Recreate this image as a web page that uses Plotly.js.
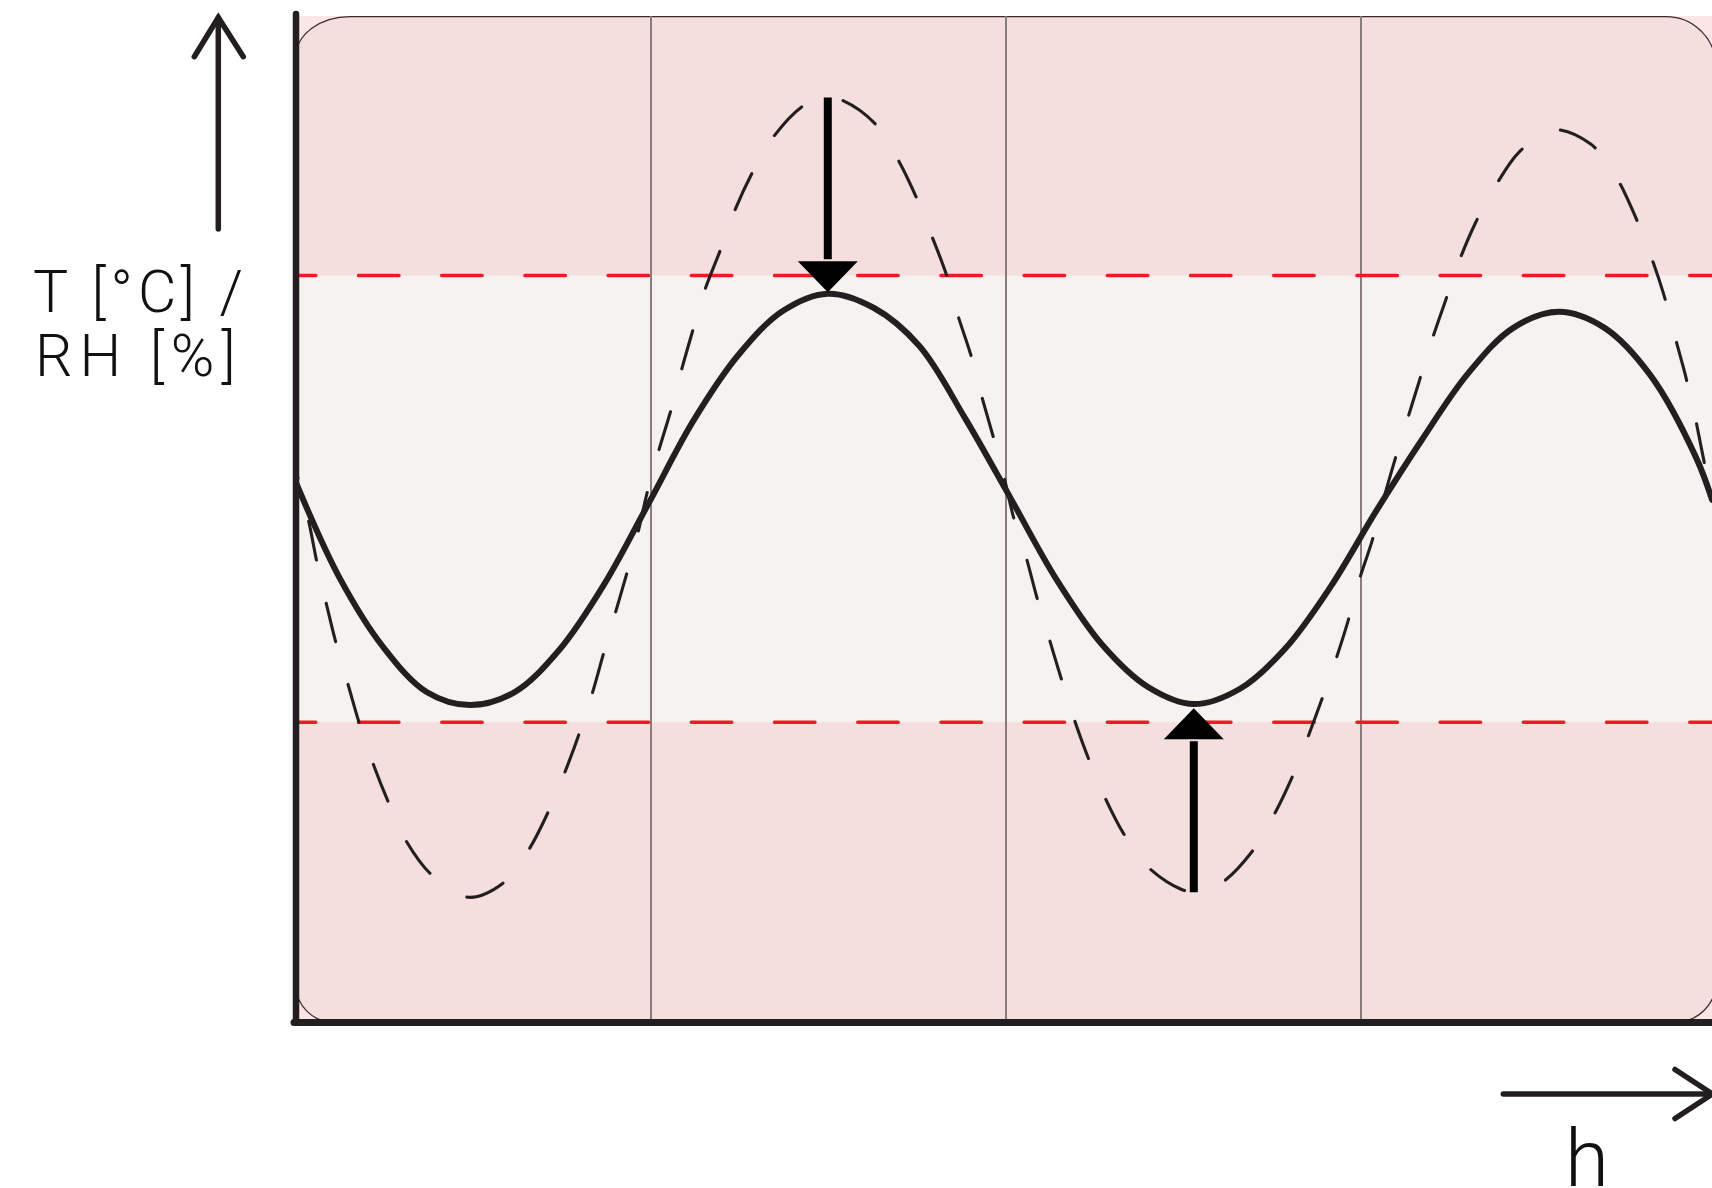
<!DOCTYPE html>
<html>
<head>
<meta charset="utf-8">
<script src="https://cdn.plot.ly/plotly-3.0.1.min.js"></script>
<style>
  html, body { margin: 0; padding: 0; background: #ffffff; }
  #chart { width: 1712px; height: 1188px; }
</style>
</head>
<body>
<div id="chart"></div>
<script>
// ---- data (x: hours in grid units, y: 0..100 scale) ----
const xSolid = [0, 0.122, 0.245, 0.368, 0.490, 0.616, 0.742, 0.868, 0.994, 1.120, 1.246, 1.372,
  1.498, 1.627, 1.756, 1.885, 2.014, 2.142, 2.271, 2.400, 2.529, 2.658, 2.786, 2.915,
  3.043, 3.172, 3.300, 3.429, 3.557, 3.686, 3.815, 3.944, 3.989];
const ySolid = [53.6, 44.2, 37.3, 32.8, 31.5, 32.8, 37.0, 43.5, 51.6, 59.8, 66.3, 70.7,
  72.4, 71.0, 67.2, 60.0, 52.0, 44.0, 37.5, 33.3, 31.6, 33.1, 37.1, 43.3,
  50.8, 57.9, 64.4, 69.0, 70.6, 69.0, 64.3, 56.1, 51.9];

const xDashed = [0, 0.035, 0.060, 0.086, 0.114, 0.147, 0.180, 0.218, 0.262, 0.312, 0.383, 0.485,
  0.587, 0.657, 0.712, 0.756, 0.797, 0.834, 0.866, 0.899, 0.932, 0.963, 0.989,
  1.021, 1.056, 1.085, 1.119, 1.152, 1.195, 1.234, 1.285, 1.343, 1.426, 1.482,
  1.533, 1.631, 1.693, 1.747, 1.789, 1.832, 1.863, 1.901, 1.930, 1.963, 1.993,
  2.021, 2.056, 2.087, 2.120, 2.155, 2.190, 2.231, 2.275, 2.330, 2.397, 2.493, 2.540,
  2.606, 2.690, 2.749, 2.803, 2.846, 2.888, 2.926, 2.963, 2.993, 3.031,
  3.063, 3.094, 3.129, 3.164, 3.198, 3.237, 3.275, 3.322, 3.377, 3.446, 3.538,
  3.646, 3.717, 3.771, 3.815, 3.853, 3.883, 3.913, 3.939, 3.963, 3.989];
const yDashed = [54.8, 49.9, 45.5, 41.5, 37.5, 33.5, 29.5, 25.6, 21.7, 17.9, 14.6, 12.4,
  13.9, 17.2, 21.0, 24.7, 28.6, 32.6, 36.6, 40.6, 44.6, 48.6, 52.6,
  56.7, 60.8, 64.7, 68.9, 72.8, 76.7, 80.5, 84.4, 87.9, 91.0, 91.9,
  91.7, 89.3, 85.9, 82.0, 78.3, 74.3, 70.4, 66.3, 62.4, 58.3, 54.4,
  50.2, 46.3, 42.2, 38.3, 34.2, 30.3, 26.3, 22.6, 18.8, 15.5, 13.2, 12.9,
  13.8, 16.8, 20.2, 24.1, 27.9, 31.9, 35.7, 39.8, 43.7, 47.8,
  51.9, 55.7, 59.7, 63.7, 67.6, 71.6, 75.5, 79.4, 83.0, 86.5, 88.7,
  87.3, 84.1, 80.2, 76.3, 72.3, 68.3, 64.4, 60.5, 56.3, 51.6];

const upperLimit = 74.2;
const lowerLimit = 29.8;
const gridTicks = [1, 2, 3];
const yLabelLine1 = 'T [°C] /';
const yLabelLine2 = 'RH [%]';
const xLabel = 'h';

// ---- layout geometry ----
const W = 1712, H = 1188;
const M = {l: 296, r: 0, t: 16, b: 166};
const plotW = W - M.l - M.r, plotH = H - M.t - M.b;
const pxPerX = 355;
const xMax = plotW / pxPerX;
const yMax = 100;
const pxPerY = plotH / yMax;
const ux = p => p / pxPerX, uy = p => p / pxPerY;
const px = p => (p - M.l) / plotW;            // page x -> paper
const py = p => (H - M.b - p) / plotH;        // page y -> paper

const ink = '#231f20';

function roundedRect(x0, x1, y0, y1, c) {
  const K = 0.5523;
  const tl = [ux(c.tl[0]), uy(c.tl[1])], tr = [ux(c.tr[0]), uy(c.tr[1])];
  const br = [ux(c.br[0]), uy(c.br[1])], bl = [ux(c.bl[0]), uy(c.bl[1])];
  return `M${x0 + tl[0]},${y1} L${x1 - tr[0]},${y1} ` +
    `C${x1 - tr[0] + K * tr[0]},${y1} ${x1},${y1 - tr[1] + K * tr[1]} ${x1},${y1 - tr[1]} ` +
    `L${x1},${y0 + br[1]} ` +
    `C${x1},${y0 + br[1] - K * br[1]} ${x1 - br[0] + K * br[0]},${y0} ${x1 - br[0]},${y0} ` +
    `L${x0 + bl[0]},${y0} ` +
    `C${x0 + bl[0] - K * bl[0]},${y0} ${x0},${y0 + bl[1] - K * bl[1]} ${x0},${y0 + bl[1]} ` +
    `L${x0},${y1 - tl[1]} ` +
    `C${x0},${y1 - tl[1] + K * tl[1]} ${x0 + tl[0] - K * tl[0]},${y1} ${x0 + tl[0]},${y1} Z`;
}

function extremum(xs, ys, lo, hi, isMax) {
  let best = null;
  for (let i = 0; i < xs.length; i++) {
    if (xs[i] < lo || xs[i] > hi) continue;
    if (best === null || (isMax ? ys[i] > ys[best] : ys[i] < ys[best])) best = i;
  }
  return {x: xs[best], y: ys[best]};
}

const solidPeak = extremum(xSolid, ySolid, 1, 2, true);
const dashedPeak = extremum(xDashed, yDashed, 1, 2, true);
const solidLow = extremum(xSolid, ySolid, 2, 3, false);
const dashedLow = extremum(xDashed, yDashed, 2, 3, false);

const headH = uy(31), headHalf = ux(30);
const downTip = solidPeak.y + 0.15, downBase = downTip + headH;
const upTip = solidLow.y - 0.4, upBase = upTip - headH;

const dashStart = -ux(20.7);
// dash pattern for the dashed curve, starting with a short partial dash (phase match)
const curveDash = '7.5px,44.5px' + ',39.5px,44.5px'.repeat(60);

const traces = [
  {x: [dashStart, xMax + 0.1], y: [upperLimit, upperLimit], mode: 'lines',
   line: {color: '#ed1c24', width: 3.5, dash: '40.5px,42.7px'}, hoverinfo: 'skip'},
  {x: [dashStart, xMax + 0.1], y: [lowerLimit, lowerLimit], mode: 'lines',
   line: {color: '#ed1c24', width: 3.5, dash: '40.5px,42.7px'}, hoverinfo: 'skip'},
  {x: xDashed, y: yDashed, mode: 'lines',
   line: {color: ink, width: 3.1, dash: curveDash, shape: 'spline', smoothing: 1, simplify: false}, hoverinfo: 'skip'},
  {x: xSolid, y: ySolid, mode: 'lines',
   line: {color: ink, width: 6, shape: 'spline', smoothing: 1, simplify: false}, hoverinfo: 'skip'}
];

const shapes = [
  // 0 rounded pink panel
  {type: 'path', xref: 'x', yref: 'y', layer: 'below',
   path: roundedRect(0, 4.0, 0, yMax - uy(0.6), {tl: [54, 40], tr: [50, 50], br: [40, 40], bl: [37, 37]}),
   fillcolor: '#f5dede', line: {color: '#3a2a2b', width: 1.2}},
  // 1 comfort band
  {type: 'rect', xref: 'x', yref: 'y', layer: 'below', x0: 0, x1: 4.0, y0: lowerLimit, y1: upperLimit,
   fillcolor: '#f6f2ef', line: {width: 0}},
  // 2 down arrow shaft
  {type: 'line', xref: 'x', yref: 'y', x0: solidPeak.x, x1: solidPeak.x, y0: dashedPeak.y, y1: downBase + 0.2,
   line: {color: '#000000', width: 8}},
  // 3 down arrow head
  {type: 'path', xref: 'x', yref: 'y',
   path: `M${solidPeak.x - headHalf},${downBase} L${solidPeak.x + headHalf},${downBase} L${solidPeak.x},${downTip} Z`,
   fillcolor: '#000000', line: {width: 0}},
  // 4 up arrow shaft
  {type: 'line', xref: 'x', yref: 'y', x0: solidLow.x, x1: solidLow.x, y0: dashedLow.y, y1: upBase - 0.2,
   line: {color: '#000000', width: 8}},
  // 5 up arrow head
  {type: 'path', xref: 'x', yref: 'y',
   path: `M${solidLow.x - headHalf},${upBase} L${solidLow.x + headHalf},${upBase} L${solidLow.x},${upTip} Z`,
   fillcolor: '#000000', line: {width: 0}},
  // 6,7 axes
  {type: 'line', xref: 'paper', yref: 'paper', x0: 0, x1: 0, y0: py(1022), y1: py(14),
   line: {color: ink, width: 6.5}},
  {type: 'line', xref: 'paper', yref: 'paper', x0: px(294), x1: 1.01, y0: py(1022.5), y1: py(1022.5),
   line: {color: ink, width: 7}},
  // 8,9 vertical axis arrow
  {type: 'path', xref: 'paper', yref: 'paper',
   path: `M${px(218.3)},${py(229)} L${px(218.3)},${py(18)}`, line: {color: ink, width: 5.5}},
  {type: 'path', xref: 'paper', yref: 'paper',
   path: `M${px(194.3)},${py(56.7)} L${px(218.3)},${py(17.5)} L${px(243.3)},${py(56.7)}`,
   line: {color: ink, width: 5.5}},
  // 10,11 horizontal axis arrow
  {type: 'path', xref: 'paper', yref: 'paper',
   path: `M${px(1503.3)},${py(1094)} L${px(1711)},${py(1094)}`, line: {color: ink, width: 5.5}},
  {type: 'path', xref: 'paper', yref: 'paper',
   path: `M${px(1675)},${py(1069.5)} L${px(1712.5)},${py(1094)} L${px(1675)},${py(1118.5)}`,
   line: {color: ink, width: 5.5}}
];

const labelFont = {family: 'Roboto, "Noto Sans", sans-serif', size: 59, color: '#111111', weight: 300};
const annotations = [
  {xref: 'paper', yref: 'paper', x: px(31), y: py(291), xanchor: 'left', yanchor: 'middle',
   text: `<span style="letter-spacing:5px">${yLabelLine1}</span>`, showarrow: false, font: labelFont, align: 'left'},
  {xref: 'paper', yref: 'paper', x: px(33), y: py(355.5), xanchor: 'left', yanchor: 'middle',
   text: `<span style="letter-spacing:7px">${yLabelLine2}</span>`, showarrow: false, font: labelFont, align: 'left'},
  {xref: 'paper', yref: 'paper', x: px(1587), y: py(1110), xanchor: 'center', yanchor: 'top',
   text: xLabel, showarrow: false, font: Object.assign({}, labelFont, {size: 80})}
];

const layout = {
  width: W, height: H, autosize: false,
  margin: M,
  paper_bgcolor: '#ffffff',
  plot_bgcolor: '#fbe6e6',
  showlegend: false,
  xaxis: {range: [0, xMax], tickvals: gridTicks, showgrid: true, gridcolor: '#8a7c7c', gridwidth: 1.4,
          showticklabels: false, ticks: '', zeroline: false, showline: false, fixedrange: true},
  yaxis: {range: [0, yMax], showgrid: false, showticklabels: false, ticks: '', zeroline: false,
          showline: false, fixedrange: true},
  shapes: shapes,
  annotations: annotations
};

Plotly.newPlot('chart', traces, layout, {staticPlot: true, displayModeBar: false}).then(() => {
  document.querySelectorAll('.shapelayer path, .scatterlayer .js-line').forEach(p => {
    const idx = p.getAttribute('data-index');
    if (idx === '2' || idx === '4') { p.style.strokeLinecap = 'butt'; return; }
    p.style.strokeLinecap = 'round';
  });
});
</script>
</body>
</html>
